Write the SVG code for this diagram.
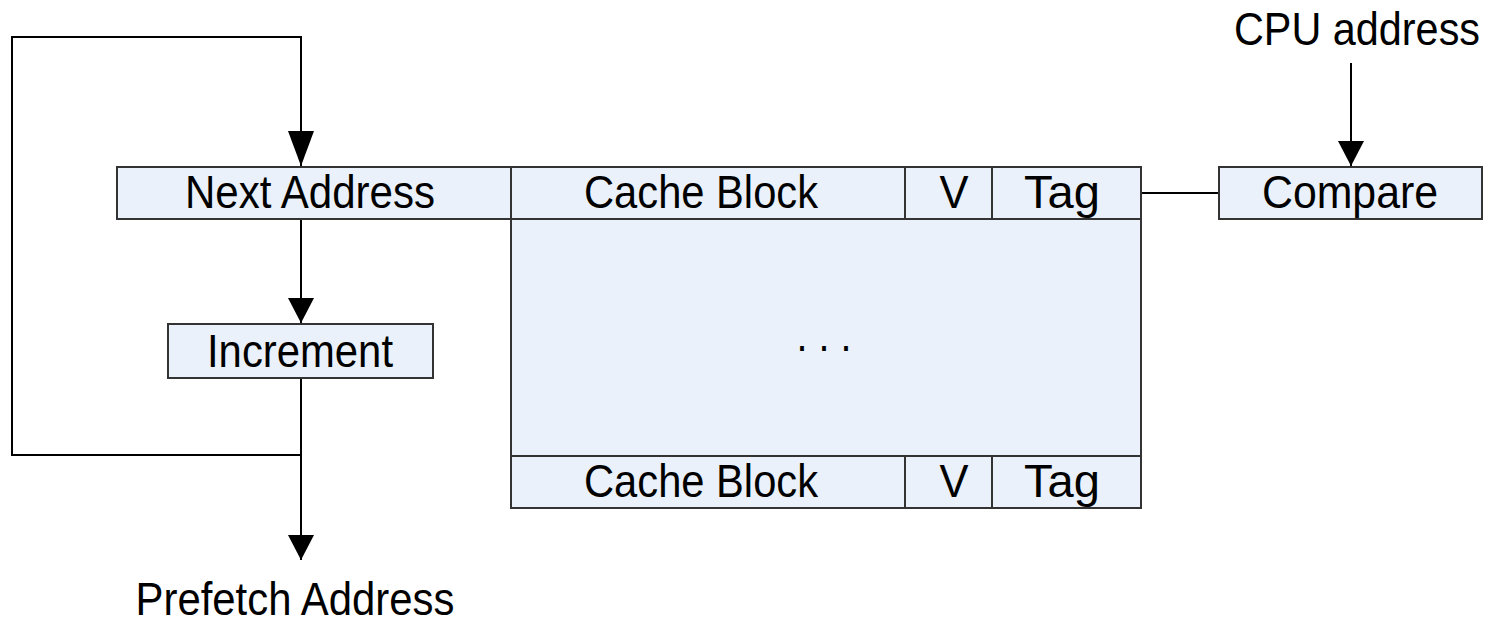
<svg xmlns="http://www.w3.org/2000/svg" width="1491" height="623" viewBox="0 0 1491 623">
  <style>
    .box { fill: #eaf1fa; stroke: #333333; stroke-width: 2; }
    .wire { fill: none; stroke: #000000; stroke-width: 2; }
    .lbl { font-family: "Liberation Sans", Arial, sans-serif; font-size: 46px; fill: #000000; text-anchor: middle; }
  </style>
  <defs>
    <marker id="arrow" markerUnits="userSpaceOnUse" markerWidth="26" markerHeight="26" refX="25" refY="13" orient="auto">
      <path d="M0,0 L25,13 L0,26 Z" fill="#000000"/>
    </marker>
    <marker id="arrow-long" markerUnits="userSpaceOnUse" markerWidth="36" markerHeight="26" refX="35" refY="13" orient="auto">
      <path d="M0,0 L35,13 L0,26 Z" fill="#000000"/>
    </marker>
  </defs>

  <!-- connectors -->
  <g id="connectors">
    <!-- feedback loop from increment back to next address -->
    <polyline class="wire" points="301,455 12,455 12,37 301,37 301,166" marker-end="url(#arrow-long)"/>
    <!-- next address to increment -->
    <line class="wire" x1="301" y1="219" x2="301" y2="323" marker-end="url(#arrow)"/>
    <!-- increment to prefetch output -->
    <line class="wire" x1="301" y1="378" x2="301" y2="560" marker-end="url(#arrow)"/>
    <!-- CPU address into comparator -->
    <line class="wire" x1="1351" y1="63" x2="1351" y2="166" marker-end="url(#arrow)"/>
    <!-- tag to comparator -->
    <line class="wire" x1="1141" y1="193" x2="1219" y2="193"/>
  </g>

  <!-- cache array body -->
  <g id="cache">
    <rect class="box" x="511" y="167" width="630" height="341"/>
    <text class="lbl" x="824" y="351" textLength="55" lengthAdjust="spacingAndGlyphs">. . .</text>
  </g>

  <g id="next-address">
    <rect class="box" x="117" y="167" width="394" height="52"/>
    <text class="lbl" x="310" y="208" textLength="250" lengthAdjust="spacingAndGlyphs">Next Address</text>
  </g>

  <g id="row-top">
    <rect class="box" x="511" y="167" width="394" height="52"/>
    <text class="lbl" x="701" y="208" textLength="234" lengthAdjust="spacingAndGlyphs">Cache Block</text>
    <rect class="box" x="905" y="167" width="87" height="52"/>
    <text class="lbl" x="954" y="208" textLength="29" lengthAdjust="spacingAndGlyphs">V</text>
    <rect class="box" x="992" y="167" width="149" height="52"/>
    <text class="lbl" x="1062" y="208" textLength="76" lengthAdjust="spacingAndGlyphs">Tag</text>
  </g>

  <g id="row-bottom">
    <rect class="box" x="511" y="456" width="394" height="52"/>
    <text class="lbl" x="701" y="497" textLength="234" lengthAdjust="spacingAndGlyphs">Cache Block</text>
    <rect class="box" x="905" y="456" width="87" height="52"/>
    <text class="lbl" x="954" y="497" textLength="29" lengthAdjust="spacingAndGlyphs">V</text>
    <rect class="box" x="992" y="456" width="149" height="52"/>
    <text class="lbl" x="1062" y="497" textLength="76" lengthAdjust="spacingAndGlyphs">Tag</text>
  </g>

  <g id="increment">
    <rect class="box" x="168" y="324" width="265" height="54"/>
    <text class="lbl" x="300" y="367" textLength="186" lengthAdjust="spacingAndGlyphs">Increment</text>
  </g>

  <g id="compare">
    <rect class="box" x="1219" y="167" width="263" height="52"/>
    <text class="lbl" x="1350" y="208" textLength="176" lengthAdjust="spacingAndGlyphs">Compare</text>
  </g>

  <g id="cpu-address">
    <text class="lbl" x="1357" y="45" textLength="246" lengthAdjust="spacingAndGlyphs">CPU address</text>
  </g>

  <g id="prefetch-address">
    <text class="lbl" x="295" y="615" textLength="319" lengthAdjust="spacingAndGlyphs">Prefetch Address</text>
  </g>
</svg>
